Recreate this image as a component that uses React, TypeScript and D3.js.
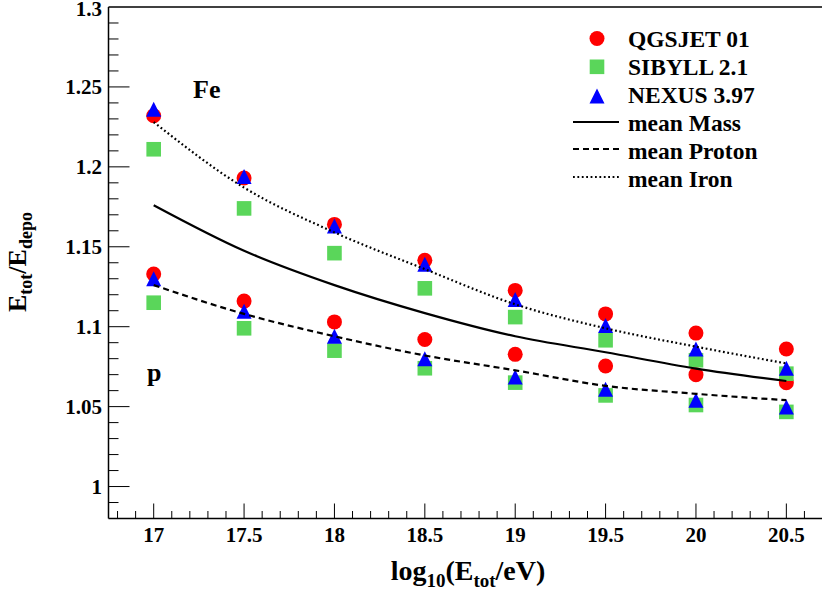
import React from 'react';
import * as d3 from 'd3';

const energies = [17, 17.5, 18, 18.5, 19, 19.5, 20, 20.5];

const qgsjetFe = [1.232, 1.193, 1.164, 1.1415, 1.1227, 1.108, 1.096, 1.086];
const qgsjetP = [1.133, 1.116, 1.103, 1.092, 1.0827, 1.0754, 1.07, 1.065];
const sibyllFe = [1.211, 1.174, 1.146, 1.124, 1.106, 1.0915, 1.079, 1.0706];
const sibyllP = [1.115, 1.099, 1.085, 1.074, 1.065, 1.057, 1.051, 1.0467];
const nexusFe = [1.236, 1.194, 1.163, 1.139, 1.117, 1.1008, 1.086, 1.074];
const nexusP = [1.13, 1.1096, 1.094, 1.08, 1.0685, 1.0608, 1.054, 1.0498];

const meanMass = [1.176, 1.1475, 1.126, 1.1085, 1.094, 1.084, 1.0738, 1.066];
const meanProton = [1.126, 1.108, 1.094, 1.082, 1.0727, 1.063, 1.058, 1.054];
const meanIron = [1.228, 1.187, 1.159, 1.136, 1.114, 1.099, 1.0875, 1.077];

const xMajor = [17, 17.5, 18, 18.5, 19, 19.5, 20, 20.5];
const yMajor = [1, 1.05, 1.1, 1.15, 1.2, 1.25, 1.3];
const yLabels = ['1', '1.05', '1.1', '1.15', '1.2', '1.25', '1.3'];

const legendItems = ['QGSJET 01', 'SIBYLL 2.1', 'NEXUS 3.97', 'mean Mass', 'mean Proton', 'mean Iron'];

const W = 822;
const H = 592;
const left = 108.5;
const top = 7;
const bottom = 518.5;
const font = '"Liberation Serif", "Times New Roman", serif';
const red = '#ff0000';
const green = '#5ad65a';
const blue = '#0000ff';

const x = d3.scaleLinear().domain([16.75, 20.7]).range([left, W + 0.5]);
const y = d3.scaleLinear().domain([0.98, 1.3]).range([bottom, top]);

const line = d3.line<number>()
  .x((_, i) => x(energies[i]))
  .y(d => y(d))
  .curve(d3.curveMonotoneX);

const tri = (cx: number, cy: number, s: number) =>
  `M${cx - s / 2},${cy + s / 2}L${cx + s / 2},${cy + s / 2}L${cx},${cy - s / 2}Z`;

export default function App() {
  const xMinor = d3.range(168, 208).map(v => v / 10);
  const yMinor = d3.range(99, 130).map(v => v / 100);

  return (
    <svg width={W} height={H} style={{ position: 'absolute', left: 0, top: 0, background: '#fff' }}
      fontFamily={font} fontWeight="bold">
      {/* frame */}
      <line x1={left} x2={left} y1={top} y2={bottom} stroke="#000" strokeWidth={1.5} />
      <line x1={left} x2={W} y1={bottom} y2={bottom} stroke="#000" strokeWidth={1.5} />
      <line x1={left} x2={W} y1={top} y2={top} stroke="#000" strokeWidth={1.5} />

      {/* x ticks */}
      {xMinor.map(v => {
        const major = xMajor.some(m => Math.abs(m - v) < 1e-6);
        return <line key={'xm' + v} x1={x(v)} x2={x(v)} y1={bottom} y2={bottom - (major ? 15 : 7.5)}
          stroke="#000" strokeWidth={1} />;
      })}
      {xMajor.map(v => (
        <text key={'xl' + v} x={x(v)} y={542} textAnchor="middle" fontSize={21}>{String(v)}</text>
      ))}

      {/* y ticks */}
      {yMinor.map(v => {
        const major = yMajor.some(m => Math.abs(m - v) < 1e-6);
        return <line key={'ym' + v} x1={left} x2={left + (major ? 21 : 10)} y1={y(v)} y2={y(v)}
          stroke="#000" strokeWidth={1} />;
      })}
      {yMajor.map((v, i) => (
        <text key={'yl' + v} x={102} y={Math.max(y(v) + 7, 16)} textAnchor="end" fontSize={21}>{yLabels[i]}</text>
      ))}

      {/* axis titles */}
      <text x={468} y={580} textAnchor="middle" fontSize={28}>
        log<tspan fontSize={19} dy={7}>10</tspan><tspan dy={-7}>(E</tspan>
        <tspan fontSize={19} dy={7}>tot</tspan><tspan dy={-7}>/eV)</tspan>
      </text>
      <text transform="translate(26,262) rotate(-90)" textAnchor="middle" fontSize={26}>
        E<tspan fontSize={18} dy={6}>tot</tspan><tspan dy={-6}>/E</tspan>
        <tspan fontSize={18} dy={6}>depo</tspan>
      </text>

      {/* markers */}
      {[qgsjetFe, qgsjetP].map((arr, k) => arr.map((v, i) => (
        <circle key={'q' + k + i} cx={x(energies[i])} cy={y(v)} r={7.5} fill={red} />
      )))}
      {[sibyllFe, sibyllP].map((arr, k) => arr.map((v, i) => (
        <rect key={'s' + k + i} x={x(energies[i]) - 7.3} y={y(v) - 7.3} width={14.6} height={14.6} fill={green} />
      )))}
      {[nexusFe, nexusP].map((arr, k) => arr.map((v, i) => (
        <path key={'n' + k + i} d={tri(x(energies[i]), y(v), 15)} fill={blue} />
      )))}

      {/* mean curves */}
      <path d={line(meanMass) || ''} fill="none" stroke="#000" strokeWidth={2.2} />
      <path d={line(meanProton) || ''} fill="none" stroke="#000" strokeWidth={2.2} strokeDasharray="6,4" />
      <path d={line(meanIron) || ''} fill="none" stroke="#000" strokeWidth={2.2} strokeDasharray="1.8,2.6" />

      {/* labels */}
      <text x={193} y={98} fontSize={26}>Fe</text>
      <text x={147} y={381} fontSize={26}>p</text>

      {/* legend */}
      {legendItems.map((t, i) => (
        <text key={t} x={628} y={47 + i * 28} fontSize={23.5}>{t}</text>
      ))}
      <circle cx={597} cy={38.5} r={7.5} fill={red} />
      <rect x={589.7} y={59.5} width={14.6} height={14.6} fill={green} />
      <path d={tri(597, 96, 15)} fill={blue} />
      <line x1={573} x2={619} y1={122} y2={122} stroke="#000" strokeWidth={2.2} />
      <line x1={573} x2={619} y1={149} y2={149} stroke="#000" strokeWidth={2.2} strokeDasharray="6,4" />
      <line x1={573} x2={619} y1={177} y2={177} stroke="#000" strokeWidth={2.2} strokeDasharray="1.8,2.6" />
    </svg>
  );
}
